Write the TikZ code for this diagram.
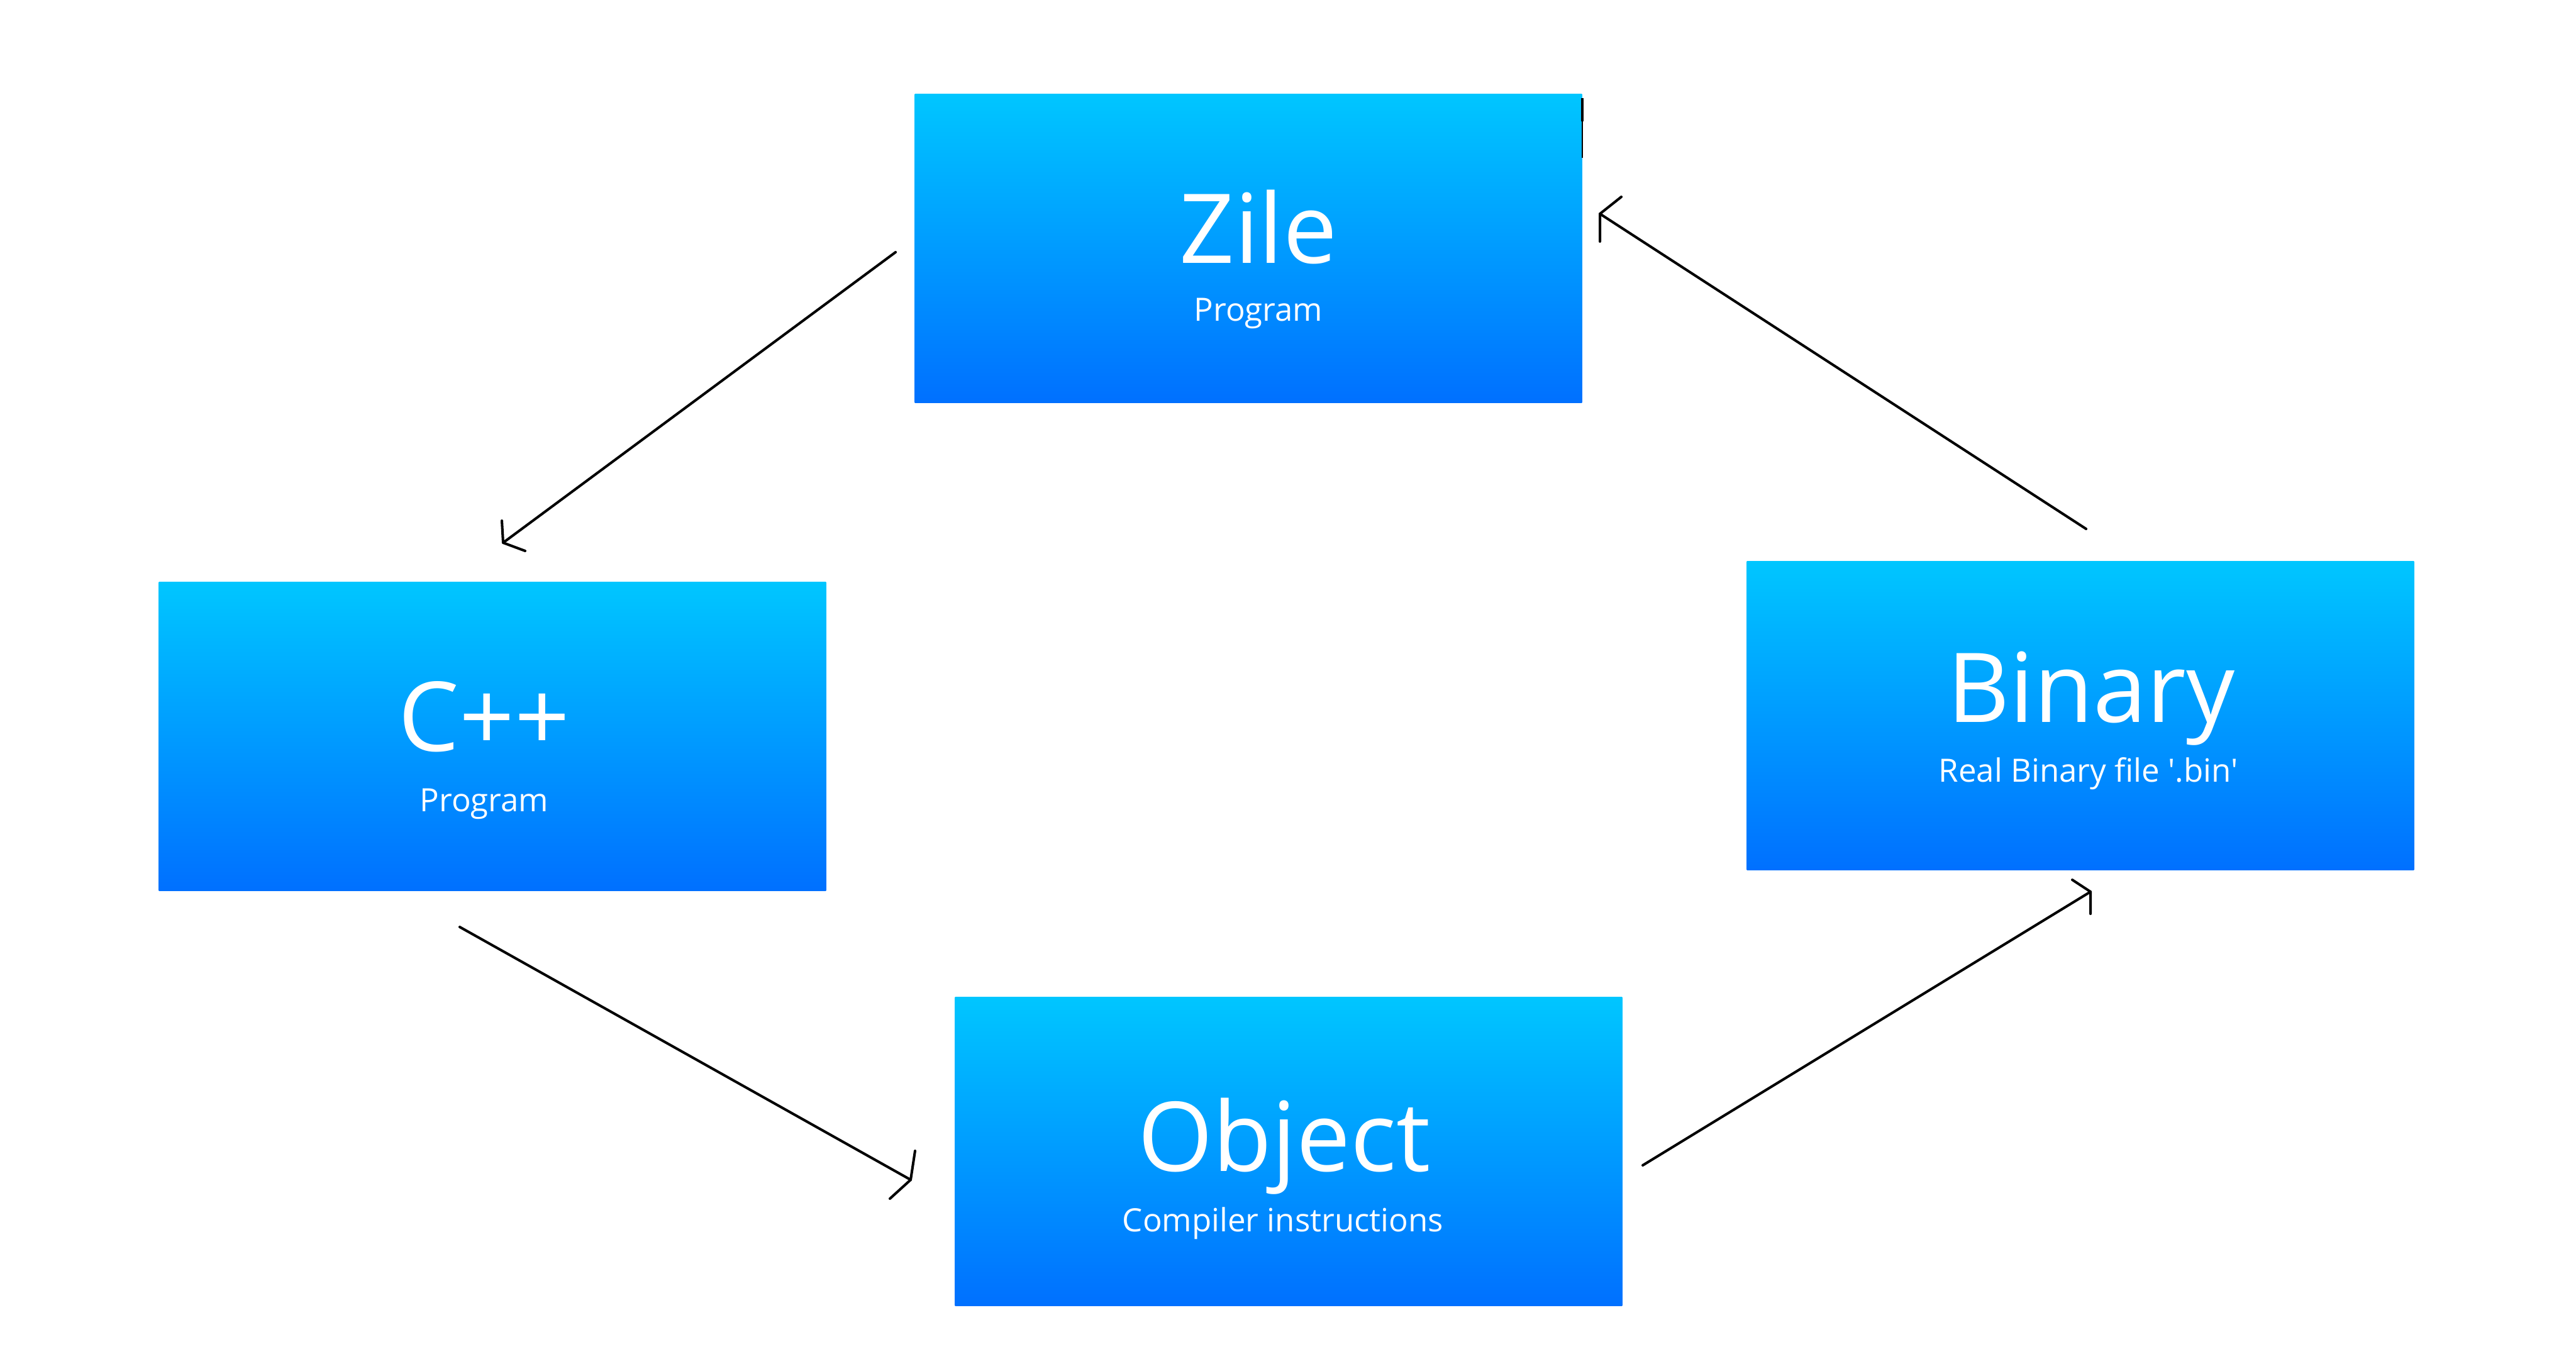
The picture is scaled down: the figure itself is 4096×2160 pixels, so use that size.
\documentclass[tikz,border=0pt]{standalone}
\usepackage{fontspec}
\setmainfont{Open Sans}
\definecolor{gtop}{HTML}{00C6FF}
\definecolor{gbot}{HTML}{0070FF}
\definecolor{ink}{HTML}{000000}
\begin{document}
\begin{tikzpicture}[x=0.01cm,y=-0.01cm,
  box/.style={rectangle,inner sep=0pt,minimum width=10.6cm,minimum height=4.91cm,top color=gtop,bottom color=gbot,draw=none},
  title/.style={anchor=base,text=white,font=\fontsize{43.6pt}{44pt}\selectfont,inner sep=0pt},
  sub/.style={anchor=base,text=white,font=\fontsize{14.5pt}{15pt}\selectfont,inner sep=0pt},
  conn/.style={draw=ink,line width=1.15pt,line cap=round,line join=round}]
\useasboundingbox[fill=white] (0,0) rectangle (4096,2160);
% boxes
\node[box] (zile) at (1985,395) {};
\node[box] (cpp) at (783,1171) {};
\node[box] (binary) at (3308,1138) {};
\node[box] (object) at (2049,1831) {};
% texts
\node[title] (zilet) at (2001,418) {Zile};
\node[sub] (ziles) at (2001,510) {Program};
\node[title] (cppt) at (770,1194) {C++};
\node[sub] (cpps) at (770,1290) {Program};
\node[title] (binaryt) at (3325,1148) {Binary};
\node[sub] (binarys) at (3321,1243) {Real Binary file \textquotesingle.bin\textquotesingle};
\node[title] (objectt) at (2042,1862) {Object};
\node[sub] (objects) at (2040,1958) {Compiler instructions};
% stray mark on Zile edge
\coordinate (m1) at (2516,156);
\coordinate (m2) at (2516,193);
\coordinate (m3) at (2516,251);
\draw[ink,line width=1.1pt] (m1) -- (m2);
\draw[ink,line width=0.5pt] (m2) -- (m3);
% arrow 1: Zile -> C++
\coordinate (a1s) at (1424,401);
\coordinate (a1t) at (800,863);
\coordinate (a1h1) at (798,828);
\coordinate (a1h2) at (835,876);
\draw[conn] (a1s) -- (a1t);
\draw[conn] (a1h1) -- (a1t) -- (a1h2);
% arrow 2: C++ -> Object
\coordinate (a2s) at (731,1474);
\coordinate (a2t) at (1448,1876);
\coordinate (a2h1) at (1455,1830);
\coordinate (a2h2) at (1415,1906);
\draw[conn] (a2s) -- (a2t);
\draw[conn] (a2h1) -- (a2t) -- (a2h2);
% arrow 3: Object -> Binary
\coordinate (a3s) at (2612,1853);
\coordinate (a3t) at (3324,1418);
\coordinate (a3h1) at (3295,1399);
\coordinate (a3h2) at (3324,1453);
\draw[conn] (a3s) -- (a3t);
\draw[conn] (a3h1) -- (a3t) -- (a3h2);
% arrow 4: Binary -> Zile
\coordinate (a4s) at (3317,841);
\coordinate (a4t) at (2544,340);
\coordinate (a4h1) at (2578,313);
\coordinate (a4h2) at (2544,384);
\draw[conn] (a4s) -- (a4t);
\draw[conn] (a4h1) -- (a4t) -- (a4h2);
\end{tikzpicture}
\end{document}
